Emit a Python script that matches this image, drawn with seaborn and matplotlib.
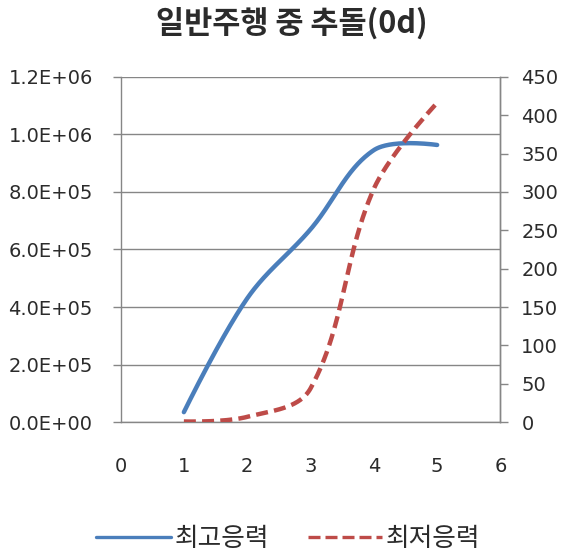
import numpy as np
import pandas as pd
import matplotlib
matplotlib.use("Agg")
import matplotlib.pyplot as plt
import seaborn as sns
from matplotlib.lines import Line2D

# Series data
x_pos = [1, 2, 3, 4, 5]
max_stress = [3.5e4, 4.3e5, 6.7e5, 9.45e5, 9.63e5]   # 최고응력 (left axis)
min_stress = [1, 7, 44, 304, 416]                     # 최저응력 (right axis)

title = "일반주행 중 추돌(0d)"
series_names = ["최고응력", "최저응력"]
left_ticks = [0, 2e5, 4e5, 6e5, 8e5, 1.0e6, 1.2e6]
right_ticks = [0, 50, 100, 150, 200, 250, 300, 350, 400, 450]
x_ticks = [0, 1, 2, 3, 4, 5, 6]

BLUE = "#4A7EBB"
RED = "#BE4B48"
GRID = "#868686"
TEXT = "#2b2b2b"


def smooth(axis, xs, ys, n=80, f=0.36):
    """Smoothed Bezier path through the points, built in screen space
    with chord-length weighted tangents, returned in data coordinates."""
    trans = axis.transData
    p = trans.transform(np.column_stack([xs, ys]).astype(float))
    m = len(p)
    c_in = p.copy()
    c_out = p.copy()
    for i in range(1, m - 1):
        d = p[i + 1] - p[i - 1]
        l0 = np.linalg.norm(p[i] - p[i - 1])
        l1 = np.linalg.norm(p[i + 1] - p[i])
        c_in[i] = p[i] - d * f * l0 / (l0 + l1)
        c_out[i] = p[i] + d * f * l1 / (l0 + l1)
    t = np.linspace(0, 1, n)[:, None]
    pieces = []
    for i in range(m - 1):
        a, b, c, e = p[i], c_out[i], c_in[i + 1], p[i + 1]
        seg = ((1 - t) ** 3) * a + 3 * ((1 - t) ** 2) * t * b + 3 * (1 - t) * t ** 2 * c + t ** 3 * e
        pieces.append(seg if i == 0 else seg[1:])
    pts = trans.inverted().transform(np.vstack(pieces))
    return pd.DataFrame({"x": pts[:, 0], "y": pts[:, 1]})


sns.set_theme(style="white")
plt.rcParams["font.family"] = ["Noto Sans CJK KR", "DejaVu Sans"]

fig = plt.figure(figsize=(5.7, 5.6), dpi=100)
ax = fig.add_axes([0.2115, 0.246, 0.6665, 0.617])
ax2 = ax.twinx()

ax.set_xlim(0, 6)
ax.set_ylim(0, 1.2e6)
ax2.set_ylim(0, 450)

sns.lineplot(data=smooth(ax, x_pos, max_stress), x="x", y="y", sort=False,
             estimator=None, ax=ax, color=BLUE, lw=3.2, solid_capstyle="round")
sns.lineplot(data=smooth(ax2, x_pos, min_stress), x="x", y="y", sort=False,
             estimator=None, ax=ax2, color=RED, lw=3.2, linestyle=(0, (2.7, 1.4)))

ax.set_xlim(0, 6)
ax.set_ylim(0, 1.2e6)
ax2.set_ylim(0, 450)
ax.set_xticks(x_ticks)
ax.set_yticks(left_ticks)
ax2.set_yticks(right_ticks)
ax.set_xticklabels([str(v) for v in x_ticks])
ax.set_yticklabels([f"{v:.1E}" for v in left_ticks])
ax2.set_yticklabels([str(v) for v in right_ticks])
ax.set_xlabel("")
ax.set_ylabel("")
ax2.set_ylabel("")

ax.yaxis.grid(True, color=GRID, lw=1)
ax.set_axisbelow(True)

for a in (ax, ax2):
    a.spines["top"].set_visible(False)
    for s in ("left", "right", "bottom"):
        a.spines[s].set_color(GRID)
        a.spines[s].set_linewidth(1)
    a.tick_params(colors=GRID, labelcolor=TEXT, labelsize=14, length=6,
                  width=1, direction="out")
ax.tick_params(axis="x", pad=18, length=7)
ax.tick_params(axis="y", pad=14, left=True)
ax2.tick_params(axis="y", pad=9, right=True)
ax2.spines["left"].set_visible(False)
ax2.spines["bottom"].set_visible(False)
for lbl in ax.get_xticklabels() + ax.get_yticklabels() + ax2.get_yticklabels():
    lbl.set_fontfamily("DejaVu Sans")

fig.text(0.512, 0.959, title, ha="center", va="center", fontsize=22,
         fontweight="bold", color=TEXT)

handles = [Line2D([], [], color=BLUE, lw=2.4),
           Line2D([], [], color=RED, lw=2.4, linestyle=(0, (3.6, 1.5)))]
fig.legend(handles, series_names, loc="center", bbox_to_anchor=(0.506, 0.038),
           ncol=2, frameon=False, fontsize=18.5, handlelength=2.9,
           handletextpad=0.15, columnspacing=1.5, labelcolor=TEXT)

fig.savefig("out.png", dpi=100)
